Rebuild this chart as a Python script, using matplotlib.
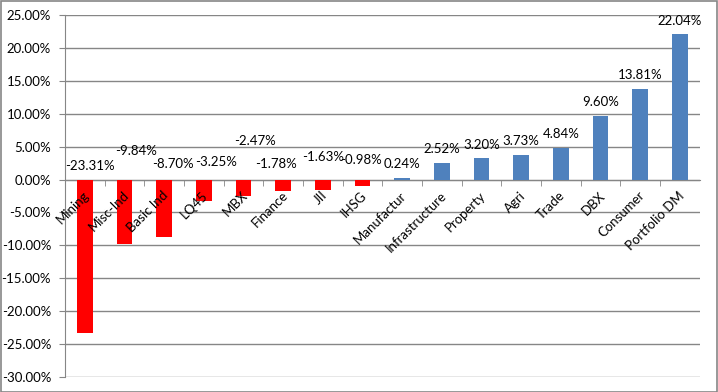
import matplotlib.pyplot as plt
from matplotlib.patches import Rectangle
import numpy as np

# sector returns (%)
sectors = ['Mining', 'Misc-Ind', 'Basic Ind', 'LQ45', 'MBX', 'Finance', 'JII', 'IHSG',
           'Manufactur', 'Infrastructure', 'Property', 'Agri', 'Trade', 'DBX',
           'Consumer', 'Portfolio DM']
returns = [-23.31, -9.84, -8.70, -3.25, -2.47, -1.78, -1.63, -0.98,
           0.24, 2.52, 3.20, 3.73, 4.84, 9.60, 13.81, 22.04]

# where the labels of the negative bars were dragged to (in %, and shift in categories)
neg_label_y = [2.0, 4.3, 2.3, 2.6, 5.9, 2.3, 3.4, 3.0]
neg_label_dx = [0.12, 0.3, 0.22, 0.32, 0.3, -0.18, 0.02, -0.05]

plt.rcParams['font.family'] = ['Lato', 'DejaVu Sans']
fig = plt.figure(figsize=(7.18, 3.92), dpi=100)
ax = fig.add_axes([0.0905, 0.0383, 0.884, 0.9234])

x = np.arange(len(sectors))
colors = ['#FF0000' if v < 0 else '#4F81BD' for v in returns]
ax.bar(x, returns, width=0.4, color=colors, zorder=2)

# data labels
for i, v in enumerate(returns):
    if v < 0:
        ax.text(i + neg_label_dx[i], neg_label_y[i], f'{v:.2f}%', ha='center', va='center',
                fontsize=9.5, zorder=3)
    else:
        ax.annotate(f'{v:.2f}%', (i, v), xytext=(0, 10), textcoords='offset points',
                    ha='center', va='center', fontsize=9.5, zorder=3)

# category labels sit on top of the bars
for i, s in enumerate(sectors):
    ax.annotate(s, (i + 0.06, 0), xytext=(0, -10), textcoords='offset points',
                rotation=45, ha='right', va='center', rotation_mode='anchor',
                fontsize=9.5, zorder=4)

ax.set_ylim(-30, 25)
ax.set_xlim(-0.5, len(sectors) - 0.5)
ax.set_yticks(np.arange(-30, 26, 5))
ax.set_yticklabels([f'{t:.2f}%' for t in np.arange(-30, 26, 5)], fontsize=9.5)
ax.yaxis.grid(True, color='#868686', linewidth=1, zorder=0)
ax.set_axisbelow(True)

ax.spines['top'].set_visible(False)
ax.spines['right'].set_visible(False)
ax.spines['left'].set_color('#868686')
ax.spines['bottom'].set_color('#868686')
ax.spines['bottom'].set_position(('data', 0))
ax.spines['bottom'].set_zorder(1)
ax.tick_params(axis='y', length=4, color='#868686', pad=6)

ax.set_xticks(x - 0.5, minor=True)
ax.set_xticks([])
ax.tick_params(axis='x', which='minor', length=4, color='#868686', direction='out')

fig.patches.append(Rectangle((0.001, 0.001), 0.997, 0.996, transform=fig.transFigure,
                             fill=False, edgecolor='#868686', linewidth=1.2))

fig.savefig('out.png', dpi=100)
